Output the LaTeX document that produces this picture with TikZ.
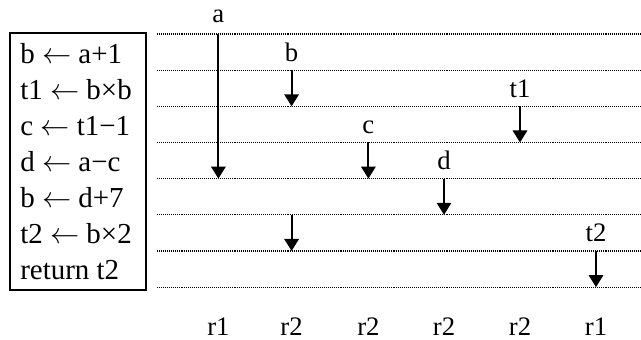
\documentclass[tikz,border=0pt]{standalone}
\usepackage{fontspec}
\setmainfont{Liberation Serif}
\usetikzlibrary{arrows.meta}
\tikzset{
  gridline/.style={line width=0.9pt, dash pattern=on 0.75pt off 0.7pt},
  flow/.style={-{Triangle[length=0.3cm,width=0.36cm]}, line width=1.4pt},
  varlabel/.style={anchor=base, inner sep=0pt, font=\fontsize{19}{22}\selectfont},
  codeline/.style={anchor=base west, inner sep=0pt, font=\fontsize{20.6}{24}\selectfont}
}

\begin{document}
\begin{tikzpicture}
\useasboundingbox (0,0) rectangle (16.025,-8.475);
% program text
\node[draw, line width=1.1pt, minimum width=3.4cm, minimum height=6.425cm,
  inner sep=0pt] (code) at (1.95,-4.0375) {};
\foreach \txt [count=\k from 0] in {b $\leftarrow$ a+1, t1 $\leftarrow$ b×b,
    c $\leftarrow$ t1−1, d $\leftarrow$ a−c, b $\leftarrow$ d+7,
    t2 $\leftarrow$ b×2, return t2}
  \node[codeline] (line\k) at (0.5,{-1.575-0.904*\k}) {\txt};
% program points
\foreach \i in {0,...,7}
  \draw[gridline] (3.925,{-0.85-0.904*\i}) -- (16.025,{-0.85-0.904*\i});
\foreach \x/\reg [count=\c] in {5.46/r1,7.29/r2,9.21/r2,11.1/r2,13.0/r2,14.9/r1}{
  \foreach \i in {0,...,7}
    \coordinate (p\c-\i) at (\x,{-0.85-0.904*\i});
  \node[varlabel] (reg\c) at (\x,-8.375) {\reg};
}
% live ranges
\node[varlabel,yshift=0.3cm] (va) at (p1-0) {a};
\draw[flow] (p1-0) -- (p1-4);
\node[varlabel,yshift=0.225cm] (vb) at (p2-1) {b};
\draw[flow] (p2-1) -- (p2-2);
\draw[flow] (p2-5) -- (p2-6);
\node[varlabel,yshift=0.225cm] (vc) at (p3-3) {c};
\draw[flow] (p3-3) -- (p3-4);
\node[varlabel,yshift=0.225cm] (vd) at (p4-4) {d};
\draw[flow] (p4-4) -- (p4-5);
\node[varlabel,yshift=0.225cm] (vt1) at (p5-2) {t1};
\draw[flow] (p5-2) -- (p5-3);
\node[varlabel,yshift=0.225cm] (vt2) at (p6-6) {t2};
\draw[flow] (p6-6) -- (p6-7);
\end{tikzpicture}
\end{document}
